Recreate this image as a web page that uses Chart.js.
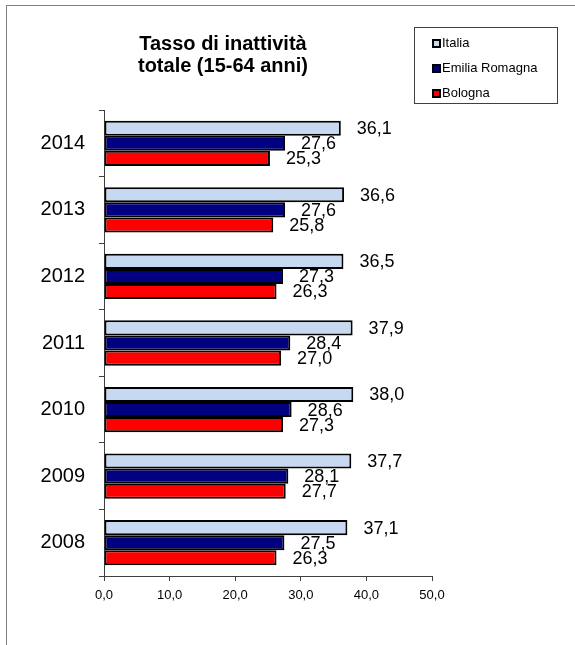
<!DOCTYPE html>
<html>
<head>
<meta charset="utf-8">
<script src="https://cdn.jsdelivr.net/npm/chart.js@4"></script>
<style>
    body { margin: 0; background: #fff; overflow: hidden; }
    #wrap { position: relative; width: 575px; height: 645px; font-family: 'Liberation Sans', Arial, sans-serif; }
    #frame { position: absolute; left: 6px; top: 5px; width: 620px; height: 700px; border: 1px solid #808080; }
    #chart { position: absolute; left: 0; top: 0; }
    #title { position: absolute; left: 108px; top: 32px; width: 230px; text-align: center;
             font-weight: bold; font-size: 20px; line-height: 22px; color: #000; }
    #legend { position: absolute; left: 414px; top: 27px; width: 142px; height: 75px; border: 1px solid #404040;
              font-size: 13px; color: #000; }
    #legend div { position: absolute; left: 17px; height: 14px; line-height: 14px; white-space: nowrap; }
    #legend span { display: inline-block; width: 5px; height: 5px; border: 2px solid #000; margin-right: 1px; vertical-align: -1px; }
</style>
</head>
<body>
<div id="wrap">
    <div id="frame"></div>
    <canvas id="chart" width="575" height="645"></canvas>
    <div id="title">Tasso di inattività<br>totale (15-64 anni)</div>
    <div id="legend"></div>
</div>
<script>
const years = ['2014', '2013', '2012', '2011', '2010', '2009', '2008'];
const seriesNames = ['Italia', 'Emilia Romagna', 'Bologna'];
const italia = [36.1, 36.6, 36.5, 37.9, 38.0, 37.7, 37.1];
const emilia = [27.6, 27.6, 27.3, 28.4, 28.6, 28.1, 27.5];
const bologna = [25.3, 25.8, 26.3, 27.0, 27.3, 27.7, 26.3];
const xTicks = [0, 10, 20, 30, 40, 50];

const colors = ['#C6D9F0', '#000080', '#FF0000'];
const font = "'Liberation Sans', Arial, sans-serif";

function fmt(v) {
    return v.toFixed(1).replace('.', ',');
}

// legend in its own box
const legend = document.getElementById('legend');
seriesNames.forEach((name, i) => {
    const item = document.createElement('div');
    item.style.top = (8 + i * 25) + 'px';
    item.innerHTML = '<span style="background:' + colors[i] + '"></span>' + name;
    legend.appendChild(item);
});

// value labels right of each bar
const valueLabels = {
    id: 'valueLabels',
    afterDatasetsDraw(chart) {
        const ctx = chart.ctx;
        ctx.save();
        ctx.font = '18px ' + font;
        ctx.fillStyle = '#000';
        ctx.textAlign = 'left';
        ctx.textBaseline = 'middle';
        chart.data.datasets.forEach((ds, i) => {
            chart.getDatasetMeta(i).data.forEach((bar, j) => {
                ctx.fillText(fmt(ds.data[j]), bar.x + 16, bar.y + 1);
            });
        });
        ctx.restore();
    }
};

const axisColor = '#404040';

new Chart(document.getElementById('chart'), {
    type: 'bar',
    data: {
        labels: years,
        datasets: [italia, emilia, bologna].map((d, i) => ({
            label: seriesNames[i],
            data: d,
            backgroundColor: colors[i],
            borderColor: '#000',
            borderWidth: 2,
            borderSkipped: false,
            barPercentage: 1,
            categoryPercentage: 0.68
        }))
    },
    options: {
        indexAxis: 'y',
        responsive: false,
        animation: false,
        layout: { padding: { top: 110, right: 143, left: 0, bottom: 0 } },
        plugins: {
            legend: { display: false },
            title: { display: false },
            tooltip: { enabled: false }
        },
        scales: {
            x: {
                min: 0,
                max: 50,
                afterBuildTicks: s => { s.ticks = xTicks.map(v => ({ value: v })); },
                ticks: {
                    callback: v => fmt(v),
                    font: { size: 13, family: font },
                    color: '#000',
                    padding: 7,
                    maxRotation: 0
                },
                grid: { drawOnChartArea: false, tickLength: 5, color: axisColor },
                border: { color: axisColor },
                afterFit: s => { s.height = 69; }
            },
            y: {
                ticks: {
                    font: { size: 20, family: font },
                    color: '#000',
                    padding: 14
                },
                grid: { drawOnChartArea: false, tickLength: 5, color: axisColor, offset: true },
                border: { color: axisColor },
                afterFit: s => { s.width = 104; }
            }
        }
    },
    plugins: [valueLabels]
});
</script>
</body>
</html>
